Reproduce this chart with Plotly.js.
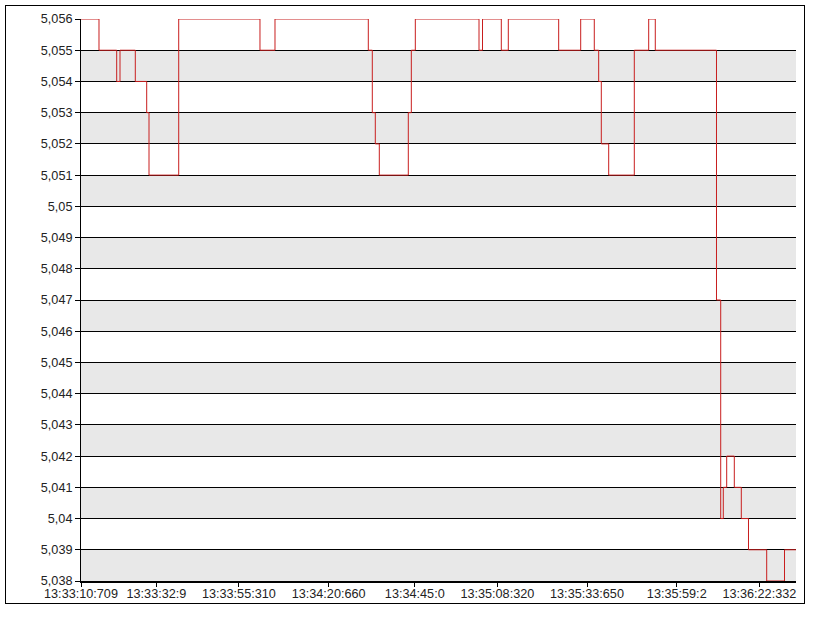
<!DOCTYPE html>
<html>
<head>
<meta charset="utf-8">
<script src="https://cdn.plot.ly/plotly-3.0.1.min.js"></script>
<style>
  html, body { margin: 0; padding: 0; background: #fff; }
  #frame { position: absolute; left: 5px; top: 5px; width: 798px; height: 597px; border: 1px solid #000; }
  #chart { width: 798px; height: 597px; }
</style>
</head>
<body>
<div id="frame"><div id="chart"></div></div>
<script>
// time in seconds after 13:33:00 at which the price changes
const changeTimes = [10.709, 15.79, 20.79, 21.73, 26.05, 29.27, 29.92, 38.31, 61.27, 65.51,
  91.87, 93.0, 93.85, 94.98, 103.17, 104.02, 105.15, 123.14, 124.13, 129.44,
  131.42, 145.65, 151.87, 155.71, 156.95, 157.69, 159.78, 167.01, 171.08, 172.94,
  190.23, 191.42, 192.15, 193.11, 195.26, 197.24, 199.27, 204.41, 209.44, 212.69];
// price value from that time on
const prices = [5.056, 5.055, 5.054, 5.055, 5.054, 5.053, 5.051, 5.056, 5.055, 5.056,
  5.055, 5.053, 5.052, 5.051, 5.053, 5.055, 5.056, 5.055, 5.056, 5.055,
  5.056, 5.055, 5.056, 5.055, 5.054, 5.052, 5.051, 5.055, 5.056, 5.055,
  5.047, 5.040, 5.041, 5.042, 5.041, 5.040, 5.039, 5.038, 5.039, 5.039];

const xTickTimes = [10.709, 32.009, 55.310, 80.660, 105.0, 128.320, 153.650, 179.002, 202.332];
const xTickLabels = ['13:33:10:709', '13:33:32:9', '13:33:55:310', '13:34:20:660', '13:34:45:0',
  '13:35:08:320', '13:35:33:650', '13:35:59:2', '13:36:22:332'];

const yTickValues = [5.038, 5.039, 5.040, 5.041, 5.042, 5.043, 5.044, 5.045, 5.046, 5.047,
  5.048, 5.049, 5.050, 5.051, 5.052, 5.053, 5.054, 5.055, 5.056];
const yTickLabels = ['5,038', '5,039', '5,04', '5,041', '5,042', '5,043', '5,044', '5,045', '5,046', '5,047',
  '5,048', '5,049', '5,05', '5,051', '5,052', '5,053', '5,054', '5,055', '5,056'];

const xRange = [10.709, 212.69];
const yRange = [5.038, 5.056];

// alternating grey bands between every other pair of grid lines
const bands = [];
for (let i = 0; i + 1 < yTickValues.length; i += 2) {
  bands.push({
    type: 'rect', xref: 'paper', yref: 'y', x0: 0, x1: 1,
    y0: yTickValues[i], y1: yTickValues[i + 1],
    fillcolor: '#e8e8e8', line: { width: 0 }, layer: 'below'
  });
}

const trace = {
  x: changeTimes, y: prices, type: 'scatter', mode: 'lines',
  line: { shape: 'hv', color: '#c81e1e', width: 1 },
  hoverinfo: 'skip'
};

const layout = {
  width: 798, height: 597,
  margin: { l: 75, r: 8, t: 13, b: 22, pad: 0 },
  paper_bgcolor: '#ffffff', plot_bgcolor: '#ffffff',
  showlegend: false,
  font: { family: 'Liberation Sans, Arial, sans-serif', size: 12.67, color: '#222' },
  shapes: bands,
  xaxis: {
    type: 'linear', range: xRange, fixedrange: true,
    tickmode: 'array', tickvals: xTickTimes, ticktext: xTickLabels,
    showgrid: false, zeroline: false,
    showline: true, linecolor: '#000', linewidth: 2,
    ticks: 'outside', ticklen: 4, tickcolor: '#000', tickwidth: 1,
    ticklabelstandoff: -4,
    tickfont: { size: 12.67, color: '#222' }
  },
  yaxis: {
    type: 'linear', range: yRange, fixedrange: true,
    tickmode: 'array', tickvals: yTickValues, ticktext: yTickLabels,
    showgrid: true, gridcolor: '#000', gridwidth: 1, zeroline: false,
    showline: true, linecolor: '#000', linewidth: 1,
    ticks: 'outside', ticklen: 5, tickcolor: '#000', tickwidth: 1,
    tickfont: { size: 12.67, color: '#222' }
  }
};

Plotly.newPlot('chart', [trace], layout, { displayModeBar: false, staticPlot: true });
</script>
</body>
</html>
